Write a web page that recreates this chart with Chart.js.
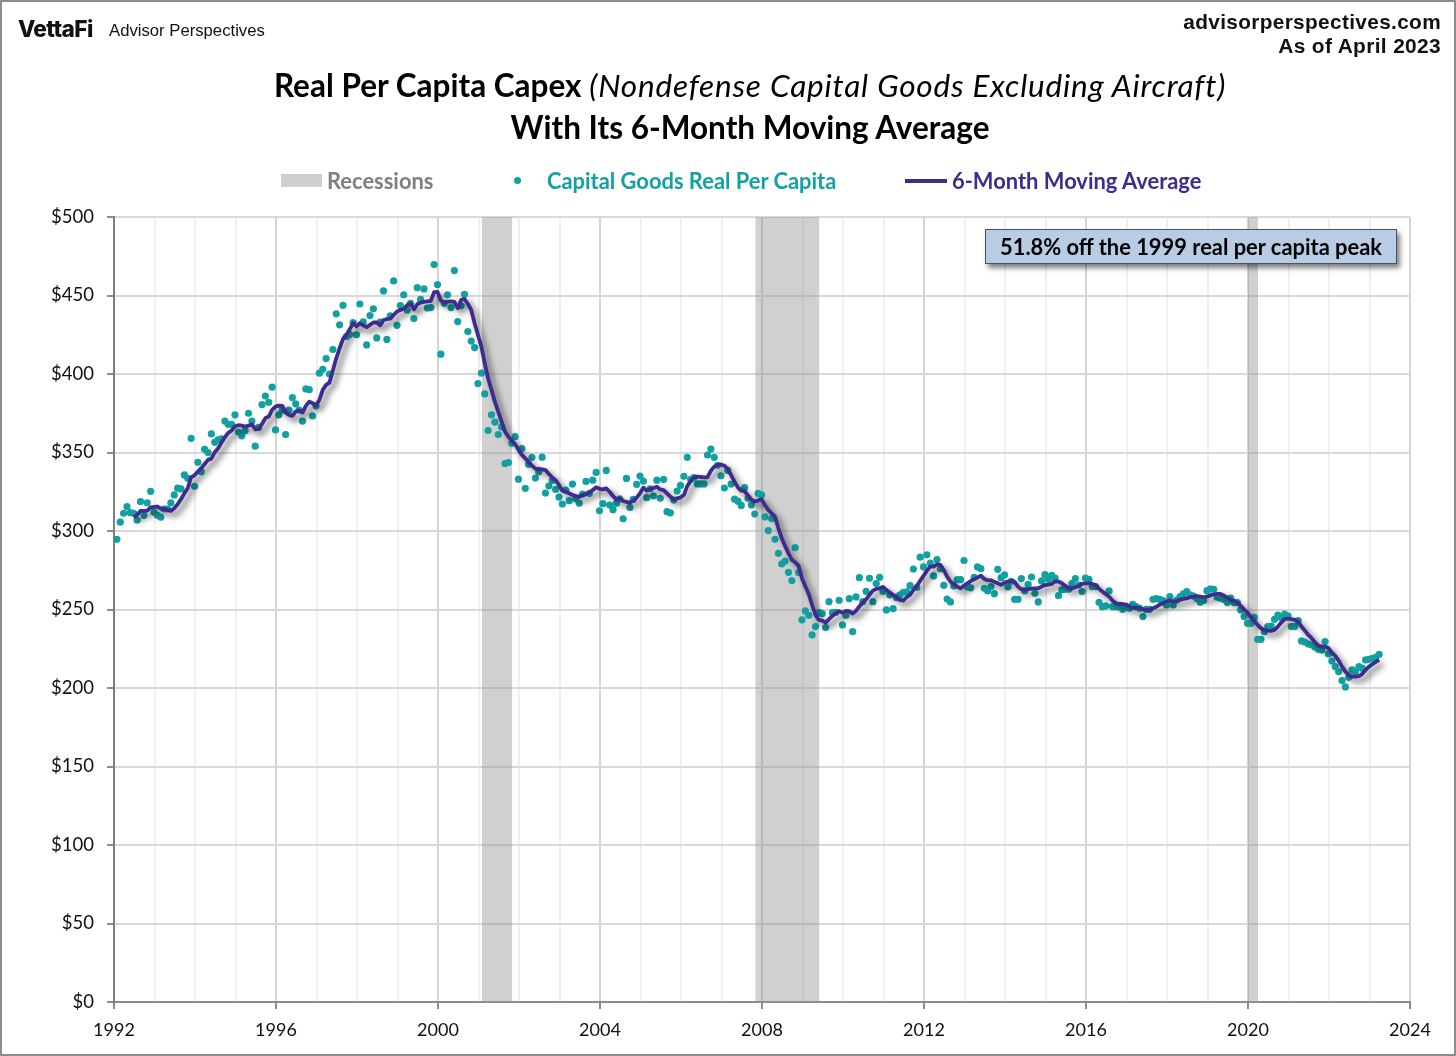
<!DOCTYPE html>
<html>
<head>
<meta charset="utf-8">
<title>Real Per Capita Capex</title>
<script src="https://cdn.jsdelivr.net/npm/chart.js@4"></script>
<style>
  html, body { margin: 0; padding: 0; background: #fff; }
  #page { position: relative; width: 1456px; height: 1056px; overflow: hidden; }
  #frame { position: absolute; left: 0; top: 0; width: 1452px; height: 1052px; border: 2px solid #8c8c8c; }
  canvas { position: absolute; left: 0; top: 0; }
  .t { position: absolute; white-space: nowrap; line-height: 1; }
  .title { left: 0; width: 1500px; text-align: center; font: 700 31.5px Lato, sans-serif; color: #000; }
  .title i { font-weight: 400; letter-spacing: .8px; }
  .leg { top: 167px; font: 700 21.9px Lato, sans-serif; }
  #note { position: absolute; left: 985px; top: 229px; width: 410px; height: 33px; line-height: 33px; text-align: center;
    background: #b8cce4; border: 1px solid #44546a; box-shadow: 3px 4px 5px rgba(0,0,0,.5);
    font: 700 21.9px/33px Lato, sans-serif; color: #000; }
</style>
</head>
<body>
<div id="page">
  <canvas id="chart" width="1456" height="1056"></canvas>
  <div id="frame"></div>

  <div class="t" style="left:18px;top:15px;font:800 22.6px Inter,sans-serif;color:#111;letter-spacing:-.6px">VettaFi</div>
  <div class="t" style="left:109px;top:21px;font:16.7px 'Liberation Sans',sans-serif;color:#111">Advisor Perspectives</div>
  <div class="t" style="right:15px;top:10px;font:700 20.8px 'Liberation Sans',sans-serif;color:#111;letter-spacing:.35px">advisorperspectives.com</div>
  <div class="t" style="right:15px;top:34px;font:700 20.9px 'Liberation Sans',sans-serif;color:#111;letter-spacing:.35px">As of April 2023</div>

  <div class="t title" style="top:66px">Real Per Capita Capex <i>(Nondefense Capital Goods Excluding Aircraft)</i></div>
  <div class="t title" style="top:108px">With Its 6-Month Moving Average</div>

  <div style="position:absolute;left:281px;top:174px;width:41px;height:13px;background:#cfcfcf"></div>
  <div class="t leg" style="left:327px;color:#7f7f7f">Recessions</div>
  <div style="position:absolute;left:514px;top:177px;width:7px;height:7px;border-radius:50%;background:#12a0a3"></div>
  <div class="t leg" style="left:547px;color:#12a0a3">Capital Goods Real Per Capita</div>
  <div style="position:absolute;left:905px;top:179px;width:42px;height:4px;background:#3d2b8e"></div>
  <div class="t leg" style="left:952px;color:#3d2b8e">6-Month Moving Average</div>

  <div id="note">51.8% off the 1999 real per capita peak</div>
</div>

<script>
// tick labels
const yearLabels = ['1992', '1996', '2000', '2004', '2008', '2012', '2016', '2020', '2024'];

// recessions, months since Jan 1992
const recessionStarts = [109, 190, 336];
const recessionEnds = [118, 209, 339];

// monthly values from Jan 1992, one row per year
const capitalGoods = [
  294.7,305.6,311.3,315.5,311.7,311.3,307,318.7,310,318,325.3,312,
  310,308.8,314,314,318,323,327.3,326.8,335.7,333.6,359,328.5,
  343.8,337.8,352,350,361.8,356.5,358,358.7,370,368,368,374,
  363,360.6,363.8,375,370,354,366,380.5,386,382,391.6,364.4,
  374,377,361.4,377,385,381,377,370,390.5,390,373.3,379.7,
  400.5,403,409.8,400,415.6,438.3,431.3,443.8,423.8,425.3,432.8,425,
  444.6,433.2,418.5,437.2,441.5,423,433,452.9,422,437,459.3,431,
  443.6,450.4,440.8,445,435.3,455,447.6,454.2,442,442.3,469.7,457,
  412.6,445,450.4,442.3,465.9,433.4,443.6,450.8,427,421,416.8,393.9,
  400.5,387.3,364,374,369.4,361.4,366.3,343,343.6,355.9,360.1,333,
  352.5,327.2,342.5,346.9,333.7,337.8,347,324.2,328.6,332.2,326.5,321.6,
  317.2,326,319.3,329.9,320.6,317.6,323.5,331.6,324,332.4,337.3,312.9,
  317.4,338.6,316.5,313.6,317.6,320.5,307.8,333.5,315,320.1,329.7,335,
  331.8,321.2,326.9,322.3,332.4,320.8,332.9,312.3,311.6,319.7,325.4,329,
  334.8,346.9,332.9,334,330,330,330,348.4,352.2,346.9,341.8,335.2,
  327.4,338.6,329.9,320.3,319,316.3,327.6,320.8,316.5,310.8,324,323,
  309,300.3,307.9,294.7,285.8,279,280.9,273.7,268.4,289.4,273.5,243.4,
  249.1,246.3,233.8,239.1,248,247.4,238.5,255,248,248.2,255.9,240.2,
  246.3,256.9,235.9,258,270.3,255,261.6,269.9,255,266.5,270.5,261.6,
  249.7,259.3,250.6,257.6,259.3,261,261.2,265.2,275.8,264,283.3,277.1,
  284.8,279.5,271.4,281.8,276,265.4,256.7,254.8,265,269,269,281.2,
  264.4,263.8,270.5,277.1,276,263.5,261.8,264.6,260.1,275.6,270.3,272,
  264.4,268,256.5,256.5,269.7,262,266,270.7,260.3,254.8,268.2,272.2,
  269.2,271.8,270,258.8,262.5,262.9,262.9,266.7,269.7,265.6,261.4,270,
  269.2,264.6,264.6,254.6,251.8,252.3,261.8,251.8,251.8,251.8,250.1,251.8,
  250.8,253.3,251.8,250.8,245.5,250.1,250.1,256.5,256.9,256.5,255.7,252.9,
  258.2,252.9,256,258.2,259.9,261.4,259.3,258.6,257,254.6,255.7,262,
  263.1,262.9,257.8,257.2,256.5,254.4,257.2,254.4,254.4,249.7,245.5,241.2,
  241.2,245,231,231,235.9,239.1,239.5,243.8,246.5,244.8,247,245.9,
  239.1,239.1,242.9,230,229.3,228,227.4,226,224.7,224.2,229.6,221.7,
  217.2,213.6,210.4,204.7,200.7,206.8,211.5,210.4,213.6,212.6,217.9,218.3,
  218.9,219.6,221.5
];

// starts Jun 1992, the first full 6 months
const movingAverage = [
  308.6,310.2,312.8,312.8,313,315.1,315.3,
  315.6,314.3,313.9,313.4,312.8,314.5,317,320.2,324,327.2,334.2,335.5,
  337.8,340,342.7,345.3,346.1,350.2,352.7,356.3,359.7,362.5,364,366.5,
  367.4,367.1,366.5,367.1,368,364.8,365,368.2,371.8,372.9,377.1,379.2,
  379.9,379.7,375.4,374,373.3,376.1,376.7,375.4,379.7,382.4,381.4,379.9,
  383.5,389.9,393.1,394.5,402.2,410,416.4,422.3,424.9,428.5,432.3,430.4,
  432.3,431,429.8,431.3,432.8,432.8,431,434.4,434.9,435.3,437.6,439.8,
  440.8,441.4,443.8,445,441.2,444.4,445.5,445.9,446.3,446.5,452.1,452.3,
  446.8,445.3,446.1,446.3,445.9,441.9,447.2,447.8,444.6,440.8,432.3,424.9,
  417.5,406.9,397.3,389.9,382.4,376.1,369.7,363.3,360.1,357.4,355.5,351.7,
  348.5,346.3,344,341.6,339.7,339.5,339.2,338.8,336.3,334.1,332.4,329.3,
  325.7,325,324,322.9,322.3,321.8,322.9,323.5,324.4,326.1,327.8,326.9,
  326.5,327.1,325,322.3,320.1,320.8,319.1,318.6,318,319.3,321.2,324,
  327.6,325.7,326.7,327.4,328.2,326.5,326.1,324,321.8,320.1,320.8,321.4,
  322.9,328.6,331.8,334.1,334.6,334.4,334.2,334.2,338.4,341,342,342.4,
  341.6,339.5,335.6,331.4,327.8,325.7,325.4,322.6,320,318.8,319.4,320.2,
  316.6,313.4,311.3,309.2,301.7,295.4,290.5,285.8,281.6,280.1,277.8,269.9,
  264.6,259.9,252.9,246.5,243.4,242.9,241.7,243.8,245.9,247.6,248.9,248,
  249.1,248.9,247.4,249.1,251.9,254.4,256.5,259.3,262,263.1,263.5,264.4,
  262.5,260.8,259.3,257.8,256.1,255.7,257.8,259.3,262.5,265,268.2,271.4,
  274.6,277.3,277.3,278.8,278.4,275.2,271,267.8,266.1,264.6,263.5,265.2,
  266.7,268,269.3,270.3,271.6,269.5,268.6,268.6,267.6,266.7,265.7,267.1,
  267.8,268.2,267.6,264.5,262.9,262.5,262.9,263.3,263.5,263.5,264.6,265.6,
  265.9,266.3,267.8,267.8,266.7,265,263.7,263.3,264.2,265,266.3,266.7,
  266.7,266.3,265.4,263.3,261.4,259.9,258.2,255.7,254,253.5,253.5,253.1,
  251.8,251,251.2,251,250.1,249.7,249.9,250.8,251.8,253.1,254,255.2,
  255.7,255,255.4,256.1,256.7,257.1,257.8,258.2,258.6,258.2,257.8,258.2,
  259,259.7,259.9,259.9,258.9,257.6,256.3,255.5,254.4,252.3,250.1,248,
  245,242.7,240.2,238,237,236.6,236.4,237,239.1,241.7,243.8,244.2,
  243.8,243.4,242.3,239.1,236.6,233.8,231.7,229.1,227,226.4,226.4,225.3,
  222.5,220.4,217.5,213.6,210.4,208.3,207.3,207.3,207.5,209,211.5,213.6,
  215.1,216.6,217.9
];

const MONTH_OFFSET = 0.85; // points sit near the end of their month
const MA_START = 5;

const recessionPoints = [];
recessionStarts.forEach((start, i) => {
  recessionPoints.push({ x: start, y: 500 }, { x: recessionEnds[i], y: 500 }, { x: recessionEnds[i], y: null });
});

// Excel style soft shadow under the moving average
const lineShadow = {
  id: 'lineShadow',
  beforeDatasetDraw(chart, args) {
    if (args.index !== 2) return;
    const ctx = chart.ctx;
    ctx.save();
    ctx.shadowColor = 'rgba(0,0,0,0.6)';
    ctx.shadowBlur = 6;
    ctx.shadowOffsetX = 4;
    ctx.shadowOffsetY = 4;
  },
  afterDatasetDraw(chart, args) {
    if (args.index === 2) chart.ctx.restore();
  }
};

new Chart(document.getElementById('chart'), {
  type: 'line',
  plugins: [lineShadow],
  data: {
    datasets: [
      {
        label: 'Recessions',
        data: recessionPoints,
        backgroundColor: 'rgba(150,150,150,0.45)',
        borderWidth: 0,
        pointRadius: 0,
        fill: 'origin',
        spanGaps: false,
        order: 3
      },
      {
        label: 'Capital Goods Real Per Capita',
        data: capitalGoods.map((v, i) => ({ x: i + MONTH_OFFSET, y: v })),
        showLine: false,
        pointRadius: 3.6,
        pointBorderWidth: 0,
        pointBackgroundColor: '#12a0a3',
        order: 2
      },
      {
        label: '6-Month Moving Average',
        data: movingAverage.map((v, i) => ({ x: i + MA_START + MONTH_OFFSET, y: v })),
        borderColor: '#3d2b8e',
        borderWidth: 3.8,
        borderJoinStyle: 'round',
        pointRadius: 0,
        tension: 0,
        order: 1
      }
    ]
  },
  options: {
    responsive: false,
    animation: false,
    devicePixelRatio: 1,
    layout: { padding: { left: 0, top: 217, right: 46, bottom: 0 } },
    plugins: { legend: { display: false }, title: { display: false }, tooltip: { enabled: false } },
    scales: {
      x: {
        type: 'linear',
        min: 0,
        max: 384,
        afterFit(scale) { scale.height = 54; },
        border: { color: '#8c8c8c', width: 2 },
        grid: {
          color: ctx => (ctx.tick.value % 48 === 0 ? '#d4d4d4' : '#efefef'),
          lineWidth: 2,
          tickLength: 7,
          tickColor: ctx => (ctx.tick.value % 48 === 0 ? '#8c8c8c' : 'rgba(0,0,0,0)')
        },
        ticks: {
          stepSize: 12,
          autoSkip: false,
          maxRotation: 0,
          padding: 10,
          color: '#111',
          font: { family: 'Lato', size: 18 },
          callback: v => (v % 48 === 0 ? yearLabels[v / 48] : '')
        }
      },
      y: {
        min: 0,
        max: 500,
        afterFit(scale) { scale.width = 114; },
        border: { color: '#7f7f7f', width: 2 },
        grid: { color: '#d9d9d9', lineWidth: 2, tickLength: 7, tickColor: '#8c8c8c' },
        ticks: {
          stepSize: 50,
          padding: 13,
          color: '#111',
          font: { family: 'Lato', size: 18.5 },
          callback: v => '$' + v
        }
      }
    }
  }
});
</script>
</body>
</html>
